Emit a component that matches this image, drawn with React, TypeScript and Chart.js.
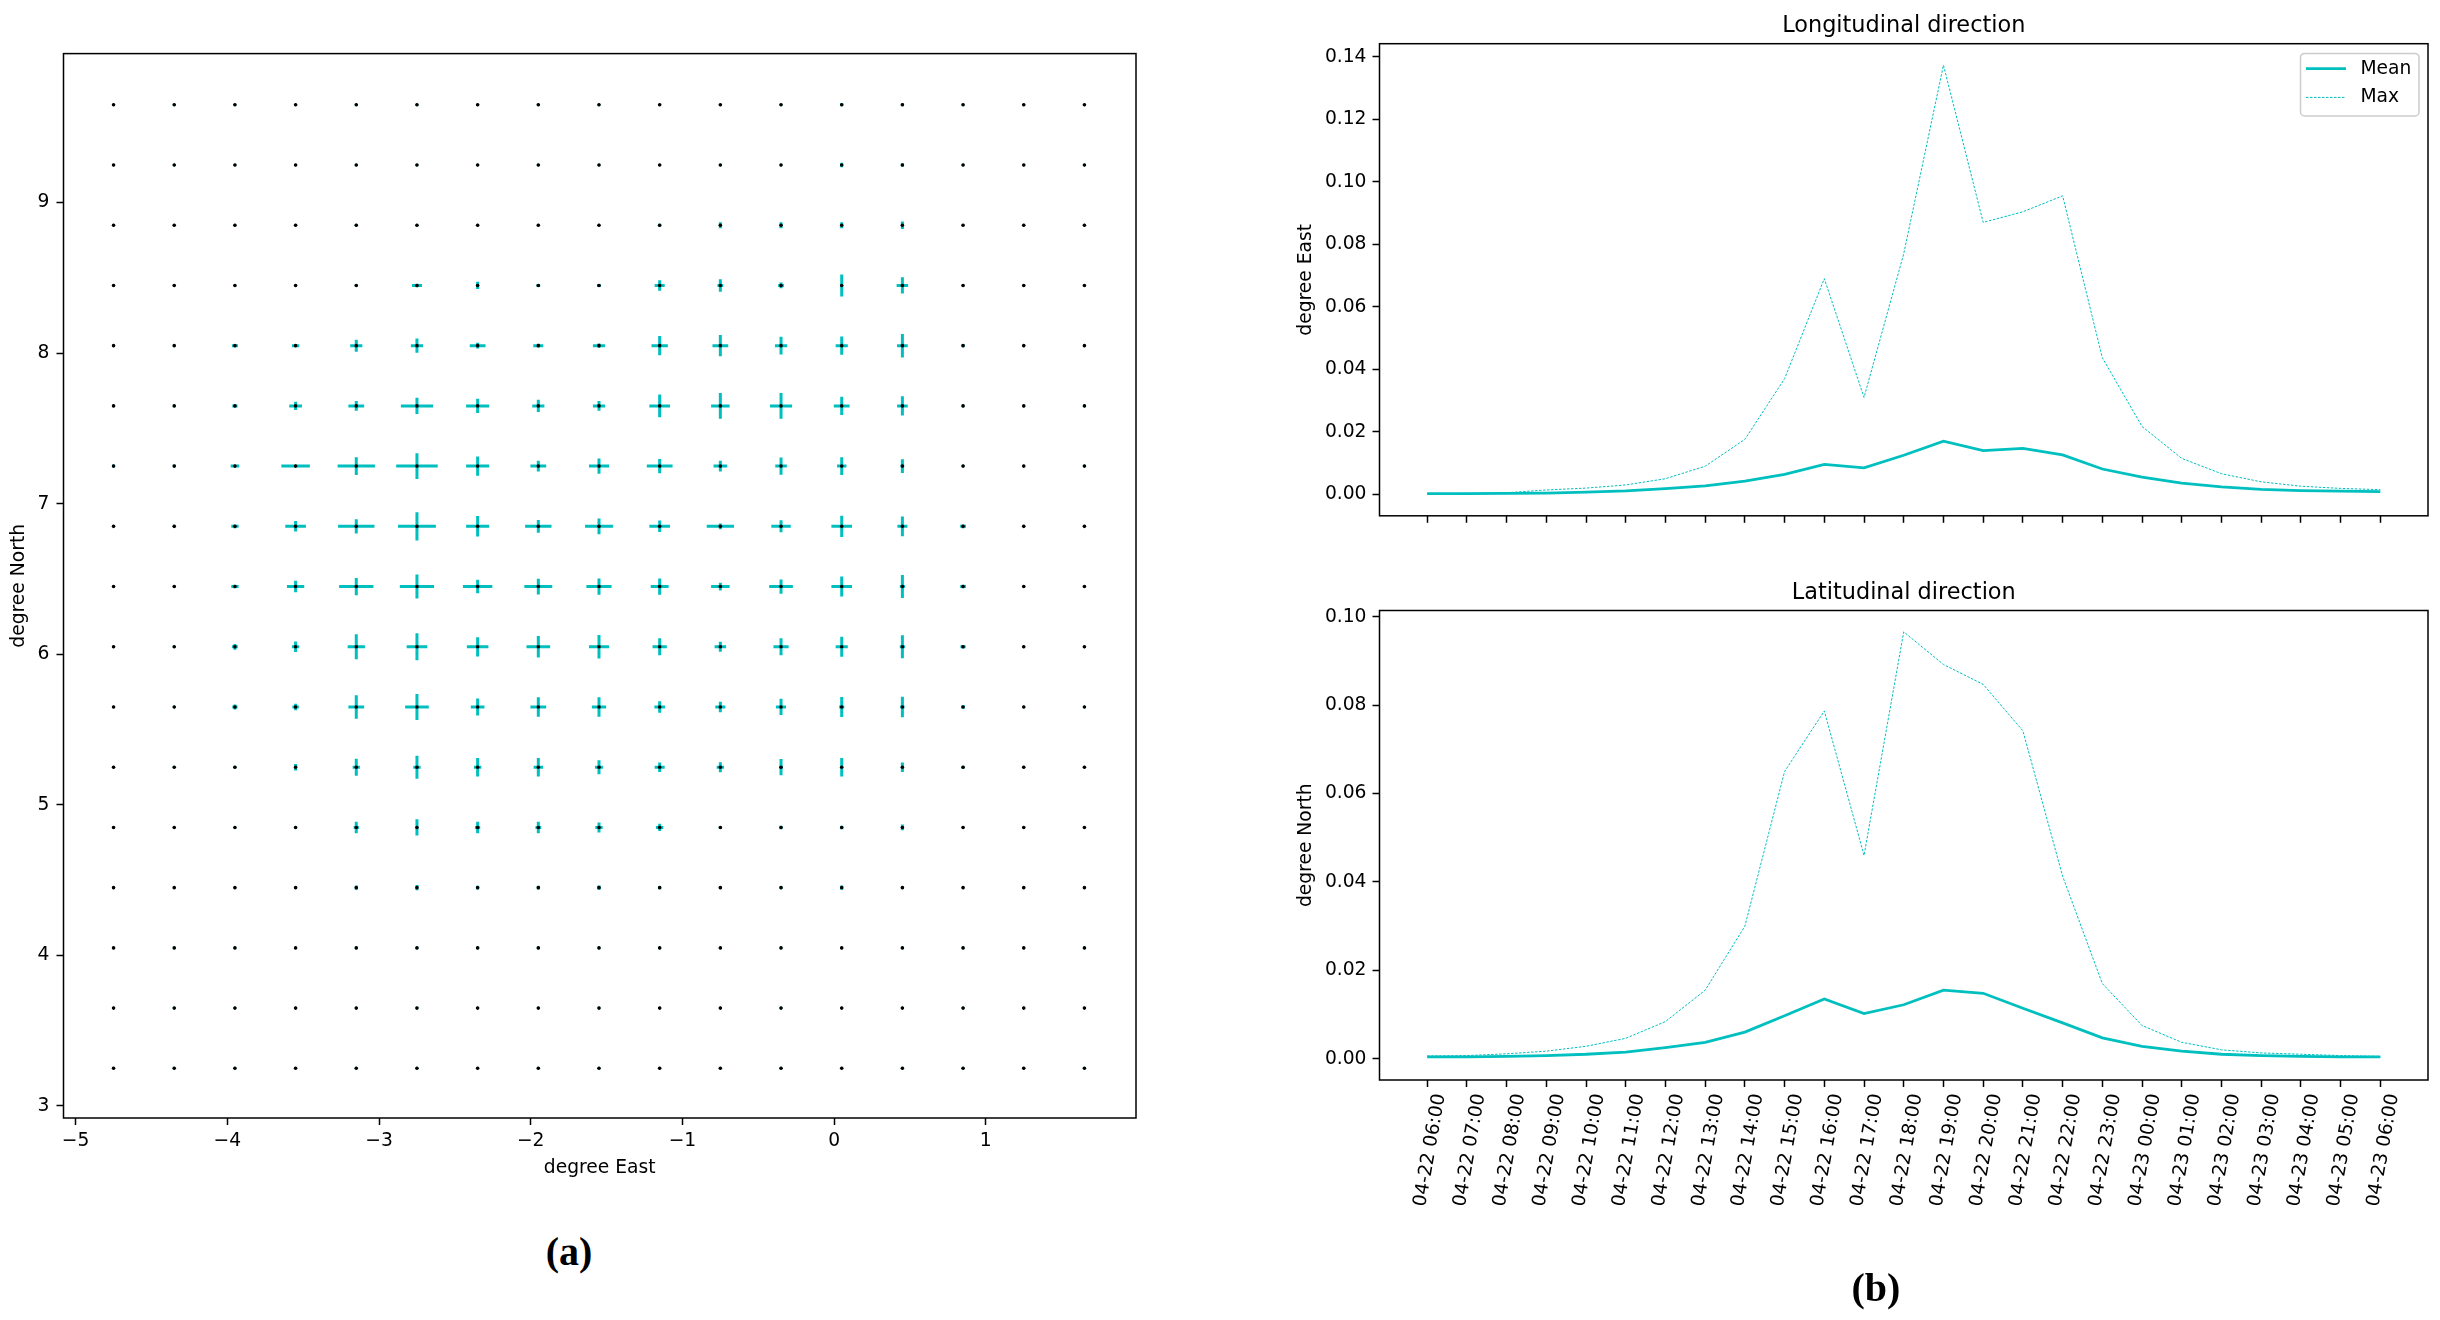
import React, { useEffect, useRef } from 'react';
import { Chart, registerables } from 'chart.js';

Chart.register(...registerables);

const CYAN = '#00bfbf';
const FONT = "'DejaVu Sans', 'Liberation Sans', sans-serif";
const FS = 18.7;
const TITLE_FS = 22.4;

// ---------- Panel (a): grid of mean positions with error crosses ----------
const GRID_X = [-4.75, -4.35, -3.95, -3.55, -3.15, -2.75, -2.35, -1.95, -1.55, -1.15, -0.75, -0.35, 0.05, 0.45, 0.85, 1.25, 1.65];
const GRID_Y = [9.65, 9.25, 8.85, 8.45, 8.05, 7.65, 7.25, 6.85, 6.45, 6.05, 5.65, 5.25, 4.85, 4.45, 4.05, 3.65, 3.25];

// horizontal (East) half-lengths, rows top -> bottom, columns left -> right
const ERR_EAST: number[][] = [
  [0.004, 0.004, 0.004, 0.004, 0.004, 0.004, 0.004, 0.004, 0.004, 0.004, 0.004, 0.004, 0.004, 0.004, 0.004, 0.004, 0.004],
  [0.004, 0.004, 0.004, 0.004, 0.004, 0.004, 0.004, 0.004, 0.004, 0.004, 0.004, 0.004, 0.004, 0.004, 0.004, 0.004, 0.004],
  [0.004, 0.004, 0.006, 0.005, 0.006, 0.005, 0.005, 0.005, 0.006, 0.008, 0.006, 0.006, 0.006, 0.006, 0.004, 0.004, 0.004],
  [0.004, 0.004, 0.005, 0.005, 0.006, 0.033, 0.010, 0.012, 0.012, 0.033, 0.019, 0.019, 0.010, 0.038, 0.004, 0.004, 0.004],
  [0.004, 0.004, 0.020, 0.024, 0.040, 0.040, 0.052, 0.033, 0.040, 0.054, 0.052, 0.040, 0.040, 0.035, 0.010, 0.004, 0.004],
  [0.004, 0.004, 0.017, 0.042, 0.052, 0.106, 0.076, 0.040, 0.040, 0.068, 0.061, 0.073, 0.052, 0.035, 0.006, 0.005, 0.004],
  [0.009, 0.009, 0.028, 0.094, 0.123, 0.137, 0.076, 0.052, 0.066, 0.085, 0.045, 0.038, 0.031, 0.012, 0.004, 0.004, 0.004],
  [0.004, 0.008, 0.024, 0.068, 0.120, 0.125, 0.076, 0.087, 0.092, 0.068, 0.090, 0.064, 0.068, 0.033, 0.019, 0.004, 0.004],
  [0.004, 0.008, 0.024, 0.057, 0.113, 0.113, 0.097, 0.092, 0.083, 0.059, 0.061, 0.078, 0.068, 0.017, 0.019, 0.004, 0.004],
  [0.004, 0.004, 0.019, 0.024, 0.057, 0.068, 0.071, 0.078, 0.066, 0.047, 0.038, 0.050, 0.040, 0.017, 0.017, 0.004, 0.004],
  [0.004, 0.004, 0.017, 0.021, 0.052, 0.078, 0.045, 0.052, 0.047, 0.035, 0.033, 0.033, 0.017, 0.014, 0.012, 0.004, 0.004],
  [0.004, 0.004, 0.008, 0.010, 0.024, 0.024, 0.024, 0.031, 0.026, 0.033, 0.024, 0.012, 0.010, 0.010, 0.010, 0.004, 0.004],
  [0.004, 0.004, 0.005, 0.005, 0.017, 0.010, 0.017, 0.019, 0.024, 0.024, 0.010, 0.008, 0.010, 0.008, 0.004, 0.004, 0.004],
  [0.004, 0.004, 0.004, 0.004, 0.010, 0.008, 0.010, 0.010, 0.012, 0.010, 0.008, 0.008, 0.006, 0.006, 0.004, 0.004, 0.004],
  [0.004, 0.004, 0.004, 0.004, 0.006, 0.006, 0.006, 0.006, 0.006, 0.005, 0.004, 0.004, 0.004, 0.004, 0.004, 0.004, 0.004],
  [0.004, 0.004, 0.004, 0.004, 0.004, 0.004, 0.004, 0.004, 0.004, 0.004, 0.004, 0.004, 0.004, 0.004, 0.004, 0.004, 0.004],
  [0.004, 0.004, 0.004, 0.004, 0.004, 0.004, 0.004, 0.004, 0.004, 0.004, 0.004, 0.004, 0.004, 0.004, 0.004, 0.004, 0.004],
];

// vertical (North) half-lengths, rows top -> bottom, columns left -> right
const ERR_NORTH: number[][] = [
  [0.004, 0.004, 0.004, 0.004, 0.004, 0.004, 0.004, 0.004, 0.004, 0.004, 0.004, 0.004, 0.010, 0.010, 0.004, 0.004, 0.004],
  [0.004, 0.004, 0.004, 0.004, 0.004, 0.004, 0.004, 0.004, 0.004, 0.004, 0.004, 0.004, 0.015, 0.012, 0.004, 0.004, 0.004],
  [0.004, 0.004, 0.004, 0.004, 0.005, 0.004, 0.004, 0.004, 0.004, 0.010, 0.020, 0.020, 0.020, 0.025, 0.004, 0.004, 0.004],
  [0.004, 0.004, 0.004, 0.004, 0.006, 0.012, 0.024, 0.010, 0.010, 0.035, 0.042, 0.019, 0.073, 0.054, 0.004, 0.004, 0.004],
  [0.004, 0.004, 0.008, 0.008, 0.040, 0.047, 0.019, 0.012, 0.014, 0.064, 0.071, 0.059, 0.061, 0.078, 0.008, 0.004, 0.004],
  [0.004, 0.004, 0.006, 0.028, 0.033, 0.054, 0.047, 0.040, 0.033, 0.076, 0.085, 0.085, 0.061, 0.064, 0.005, 0.005, 0.004],
  [0.004, 0.004, 0.008, 0.010, 0.059, 0.085, 0.064, 0.035, 0.050, 0.047, 0.035, 0.057, 0.059, 0.045, 0.004, 0.004, 0.004],
  [0.004, 0.004, 0.012, 0.035, 0.047, 0.094, 0.068, 0.042, 0.052, 0.038, 0.019, 0.040, 0.071, 0.066, 0.012, 0.004, 0.004],
  [0.004, 0.004, 0.012, 0.038, 0.057, 0.080, 0.045, 0.052, 0.054, 0.054, 0.026, 0.047, 0.066, 0.076, 0.012, 0.004, 0.004],
  [0.004, 0.004, 0.019, 0.035, 0.083, 0.090, 0.064, 0.071, 0.078, 0.057, 0.033, 0.057, 0.066, 0.076, 0.012, 0.004, 0.004],
  [0.004, 0.004, 0.017, 0.021, 0.078, 0.087, 0.057, 0.064, 0.064, 0.038, 0.035, 0.054, 0.066, 0.068, 0.012, 0.004, 0.004],
  [0.004, 0.004, 0.006, 0.021, 0.057, 0.076, 0.061, 0.061, 0.047, 0.031, 0.033, 0.054, 0.061, 0.031, 0.010, 0.004, 0.004],
  [0.004, 0.004, 0.005, 0.006, 0.038, 0.054, 0.038, 0.038, 0.033, 0.024, 0.010, 0.012, 0.012, 0.019, 0.004, 0.004, 0.004],
  [0.004, 0.004, 0.004, 0.004, 0.014, 0.017, 0.012, 0.012, 0.014, 0.010, 0.008, 0.008, 0.014, 0.008, 0.004, 0.004, 0.004],
  [0.004, 0.004, 0.004, 0.004, 0.006, 0.006, 0.006, 0.006, 0.006, 0.004, 0.004, 0.004, 0.004, 0.004, 0.004, 0.004, 0.004],
  [0.004, 0.004, 0.004, 0.004, 0.004, 0.004, 0.004, 0.004, 0.004, 0.004, 0.004, 0.004, 0.004, 0.004, 0.004, 0.004, 0.004],
  [0.004, 0.004, 0.004, 0.004, 0.004, 0.004, 0.004, 0.004, 0.004, 0.004, 0.004, 0.004, 0.004, 0.004, 0.004, 0.004, 0.004],
];

const LEFT_X_TICKS = [-5, -4, -3, -2, -1, 0, 1];
const LEFT_Y_TICKS = [3, 4, 5, 6, 7, 8, 9];

// ---------- Panel (b): time series ----------
const TIME_LABELS = [
  '04-22 06:00', '04-22 07:00', '04-22 08:00', '04-22 09:00', '04-22 10:00', '04-22 11:00',
  '04-22 12:00', '04-22 13:00', '04-22 14:00', '04-22 15:00', '04-22 16:00', '04-22 17:00',
  '04-22 18:00', '04-22 19:00', '04-22 20:00', '04-22 21:00', '04-22 22:00', '04-22 23:00',
  '04-23 00:00', '04-23 01:00', '04-23 02:00', '04-23 03:00', '04-23 04:00', '04-23 05:00',
  '04-23 06:00',
];
const LON_MEAN = [0.0002, 0.0002, 0.0003, 0.0004, 0.0007, 0.0011, 0.0018, 0.0027, 0.0042, 0.0064, 0.0096, 0.0085, 0.0125, 0.0170, 0.0140, 0.0147, 0.0126, 0.0081, 0.0055, 0.0036, 0.0024, 0.0016, 0.0012, 0.0010, 0.0009];
const LON_MAX = [0.0002, 0.0003, 0.0005, 0.0014, 0.0020, 0.0030, 0.0050, 0.0090, 0.0176, 0.0370, 0.0690, 0.0310, 0.0770, 0.1373, 0.0870, 0.0904, 0.0955, 0.0437, 0.0217, 0.0115, 0.0066, 0.0040, 0.0026, 0.0019, 0.0015];
const LAT_MEAN = [0.0004, 0.0004, 0.0005, 0.0007, 0.0010, 0.0015, 0.0025, 0.0037, 0.0060, 0.0097, 0.0135, 0.0102, 0.0122, 0.0155, 0.0148, 0.0114, 0.0081, 0.0047, 0.0028, 0.0017, 0.0010, 0.0007, 0.0005, 0.0004, 0.0004];
const LAT_MAX = [0.0006, 0.0007, 0.0011, 0.0017, 0.0028, 0.0046, 0.0084, 0.0155, 0.0300, 0.0650, 0.0787, 0.0460, 0.0966, 0.0892, 0.0847, 0.0742, 0.0413, 0.0170, 0.0075, 0.0037, 0.0020, 0.0013, 0.0010, 0.0007, 0.0005];
const LON_TICKS = [0, 0.02, 0.04, 0.06, 0.08, 0.10, 0.12, 0.14];
const LAT_TICKS = [0, 0.02, 0.04, 0.06, 0.08, 0.10];
const SERIES_NAMES = ['Mean', 'Max'];

// ---------- plugins ----------
const framePlugin = {
  id: 'frame',
  afterDatasetsDraw(chart: any) {
    const { ctx, chartArea: a } = chart;
    ctx.save();
    ctx.strokeStyle = '#000';
    ctx.lineWidth = 1.5;
    ctx.strokeRect(a.left, a.top, a.right - a.left, a.bottom - a.top);
    ctx.restore();
  },
};

const errorBarPlugin = {
  id: 'errorBars',
  beforeDatasetsDraw(chart: any) {
    const { ctx } = chart;
    const xs = chart.scales.x;
    const ys = chart.scales.y;
    ctx.save();
    ctx.strokeStyle = CYAN;
    ctx.lineWidth = 3;
    ctx.lineCap = 'butt';
    chart.data.datasets.forEach((ds: any) => {
      ds.data.forEach((p: any) => {
        const px = xs.getPixelForValue(p.x);
        const py = ys.getPixelForValue(p.y);
        ctx.beginPath();
        ctx.moveTo(xs.getPixelForValue(p.x - p.xErr), py);
        ctx.lineTo(xs.getPixelForValue(p.x + p.xErr), py);
        ctx.moveTo(px, ys.getPixelForValue(p.y - p.yErr));
        ctx.lineTo(px, ys.getPixelForValue(p.y + p.yErr));
        ctx.stroke();
      });
    });
    ctx.restore();
  },
};

function panelDecor(title: string, withLegend: boolean) {
  return {
    id: 'panelDecor',
    afterDraw(chart: any) {
      const { ctx, chartArea: a } = chart;
      ctx.save();
      ctx.fillStyle = '#000';
      ctx.font = `${TITLE_FS}px ${FONT}`;
      ctx.textAlign = 'center';
      ctx.textBaseline = 'alphabetic';
      ctx.fillText(title, (a.left + a.right) / 2, a.top - 12);
      if (withLegend) {
        const w = 118.5;
        const h = 62.6;
        const bx = a.right - 9 - w;
        const by = a.top + 9.7;
        ctx.beginPath();
        (ctx as any).roundRect(bx, by, w, h, 4);
        ctx.fillStyle = 'rgba(255,255,255,0.8)';
        ctx.fill();
        ctx.strokeStyle = '#cccccc';
        ctx.lineWidth = 1.5;
        ctx.stroke();
        const rows = [by + 15.3, by + 44];
        chart.data.datasets.forEach((ds: any, i: number) => {
          ctx.beginPath();
          ctx.strokeStyle = ds.borderColor;
          ctx.lineWidth = ds.borderWidth;
          ctx.setLineDash(ds.borderDash || []);
          ctx.moveTo(bx + 5.5, rows[i]);
          ctx.lineTo(bx + 45.5, rows[i]);
          ctx.stroke();
          ctx.setLineDash([]);
          ctx.fillStyle = '#000';
          ctx.font = `${FS}px ${FONT}`;
          ctx.textAlign = 'left';
          ctx.textBaseline = 'middle';
          ctx.fillText(ds.label, bx + 60, rows[i]);
        });
      }
      ctx.restore();
    },
  };
}

const tickFont = { family: FONT, size: FS };
const gridOpts = { drawOnChartArea: false, drawTicks: true, tickLength: 7, tickWidth: 1.5, tickColor: '#000' };

function leftConfig(): any {
  const points = GRID_Y.flatMap((gy, r) =>
    GRID_X.map((gx, c) => ({ x: gx, y: gy, xErr: ERR_EAST[r][c], yErr: ERR_NORTH[r][c] }))
  );
  return {
    type: 'scatter',
    data: {
      datasets: [
        {
          label: 'positions',
          data: points,
          pointRadius: 1.8,
          pointBackgroundColor: '#000',
          pointBorderWidth: 0,
          showLine: false,
        },
      ],
    },
    options: {
      responsive: false,
      animation: false,
      layout: { padding: { top: 53.6, right: 14, bottom: 2, left: 0 } },
      plugins: { legend: { display: false }, tooltip: { enabled: false } },
      scales: {
        x: {
          type: 'linear',
          min: -5.08,
          max: 1.99,
          afterBuildTicks: (s: any) => { s.ticks = LEFT_X_TICKS.map((v) => ({ value: v })); },
          afterFit: (s: any) => { s.height = 80; },
          grid: gridOpts,
          border: { display: false },
          ticks: { color: '#000', font: tickFont, padding: 5, callback: (v: any) => String(v).replace('-', '\u2212') },
          title: { display: true, text: 'degree East', color: '#000', font: tickFont, padding: { top: 0, bottom: 18.8 } },
        },
        y: {
          type: 'linear',
          min: 2.92,
          max: 9.99,
          afterBuildTicks: (s: any) => { s.ticks = LEFT_Y_TICKS.map((v) => ({ value: v })); },
          afterFit: (s: any) => { s.width = 63.5; },
          grid: gridOpts,
          border: { display: false },
          ticks: { color: '#000', font: tickFont, padding: 7, callback: (v: any) => String(v) },
          title: { display: true, text: 'degree North', color: '#000', font: tickFont, padding: { top: 8, bottom: 0 } },
        },
      },
    },
    plugins: [errorBarPlugin, framePlugin],
  };
}

function rightConfig(mean: number[], max: number[], yTicks: number[], yTitle: string, title: string, top: boolean): any {
  const yMax = Math.max(...max);
  const span = yMax;
  return {
    type: 'line',
    data: {
      datasets: [
        {
          label: SERIES_NAMES[0],
          data: mean.map((v, i) => ({ x: i, y: v })),
          borderColor: CYAN,
          borderWidth: 2.8,
          pointRadius: 0,
          fill: false,
          tension: 0,
        },
        {
          label: SERIES_NAMES[1],
          data: max.map((v, i) => ({ x: i, y: v })),
          borderColor: CYAN,
          borderWidth: 1,
          borderDash: [2.5, 1.5],
          pointRadius: 0,
          fill: false,
          tension: 0,
        },
      ],
    },
    options: {
      responsive: false,
      animation: false,
      layout: { padding: top ? { top: 43.7, right: 12, bottom: 14.2, left: 0 } : { top: 50.5, right: 12, bottom: 100, left: 0 } },
      plugins: { legend: { display: false }, tooltip: { enabled: false } },
      scales: {
        x: {
          type: 'linear',
          min: -1.2,
          max: TIME_LABELS.length - 1 + 1.2,
          afterBuildTicks: (s: any) => { s.ticks = TIME_LABELS.map((_, i) => ({ value: i })); },
          afterFit: (s: any) => { s.height = top ? 10 : 140; },
          grid: gridOpts,
          border: { display: false },
          ticks: {
            color: '#000',
            font: tickFont,
            padding: 5,
            autoSkip: false,
            labelOffset: top ? 0 : 13,
            minRotation: top ? 0 : 80,
            maxRotation: top ? 0 : 80,
            callback: (v: any) => (top ? '' : TIME_LABELS[Math.round(v)]),
          },
        },
        y: {
          type: 'linear',
          min: -0.05 * span,
          max: yMax + 0.05 * span,
          afterBuildTicks: (s: any) => { s.ticks = yTicks.map((v) => ({ value: v })); },
          afterFit: (s: any) => { s.width = 99.5; },
          grid: gridOpts,
          border: { display: false },
          ticks: { color: '#000', font: tickFont, padding: 6, callback: (v: any) => Number(v).toFixed(2) },
          title: { display: true, text: yTitle, color: '#000', font: tickFont, padding: { top: 14.8, bottom: 0 } },
        },
      },
    },
    plugins: [framePlugin, panelDecor(title, top)],
  };
}

function ChartCanvas({ make, left, top, width, height }: { make: () => any; left: number; top: number; width: number; height: number }) {
  const ref = useRef<HTMLCanvasElement | null>(null);
  useEffect(() => {
    if (!ref.current) return;
    const chart = new Chart(ref.current, make());
    return () => chart.destroy();
  }, []);
  return (
    <canvas
      ref={ref}
      width={width}
      height={height}
      style={{ position: 'absolute', left, top, width, height }}
    />
  );
}

const captionStyle = (cx: number, cy: number): React.CSSProperties => ({
  position: 'absolute',
  left: cx - 60,
  top: cy - 22,
  width: 120,
  height: 44,
  lineHeight: '44px',
  textAlign: 'center',
  fontFamily: "'Liberation Serif', 'DejaVu Serif', serif",
  fontWeight: 'bold',
  fontSize: 40,
  color: '#000',
});

export default function App() {
  return (
    <div style={{ position: 'absolute', left: 0, top: 0, width: 2440, height: 1320, background: '#fff', overflow: 'hidden' }}>
      <ChartCanvas make={leftConfig} left={0} top={0} width={1150} height={1200} />
      <ChartCanvas
        make={() => rightConfig(LON_MEAN, LON_MAX, LON_TICKS, 'degree East', 'Longitudinal direction', true)}
        left={1280}
        top={0}
        width={1160}
        height={540}
      />
      <ChartCanvas
        make={() => rightConfig(LAT_MEAN, LAT_MAX, LAT_TICKS, 'degree North', 'Latitudinal direction', false)}
        left={1280}
        top={560}
        width={1160}
        height={760}
      />
      <div style={captionStyle(569, 1252)}>(a)</div>
      <div style={captionStyle(1876, 1288)}>(b)</div>
    </div>
  );
}
